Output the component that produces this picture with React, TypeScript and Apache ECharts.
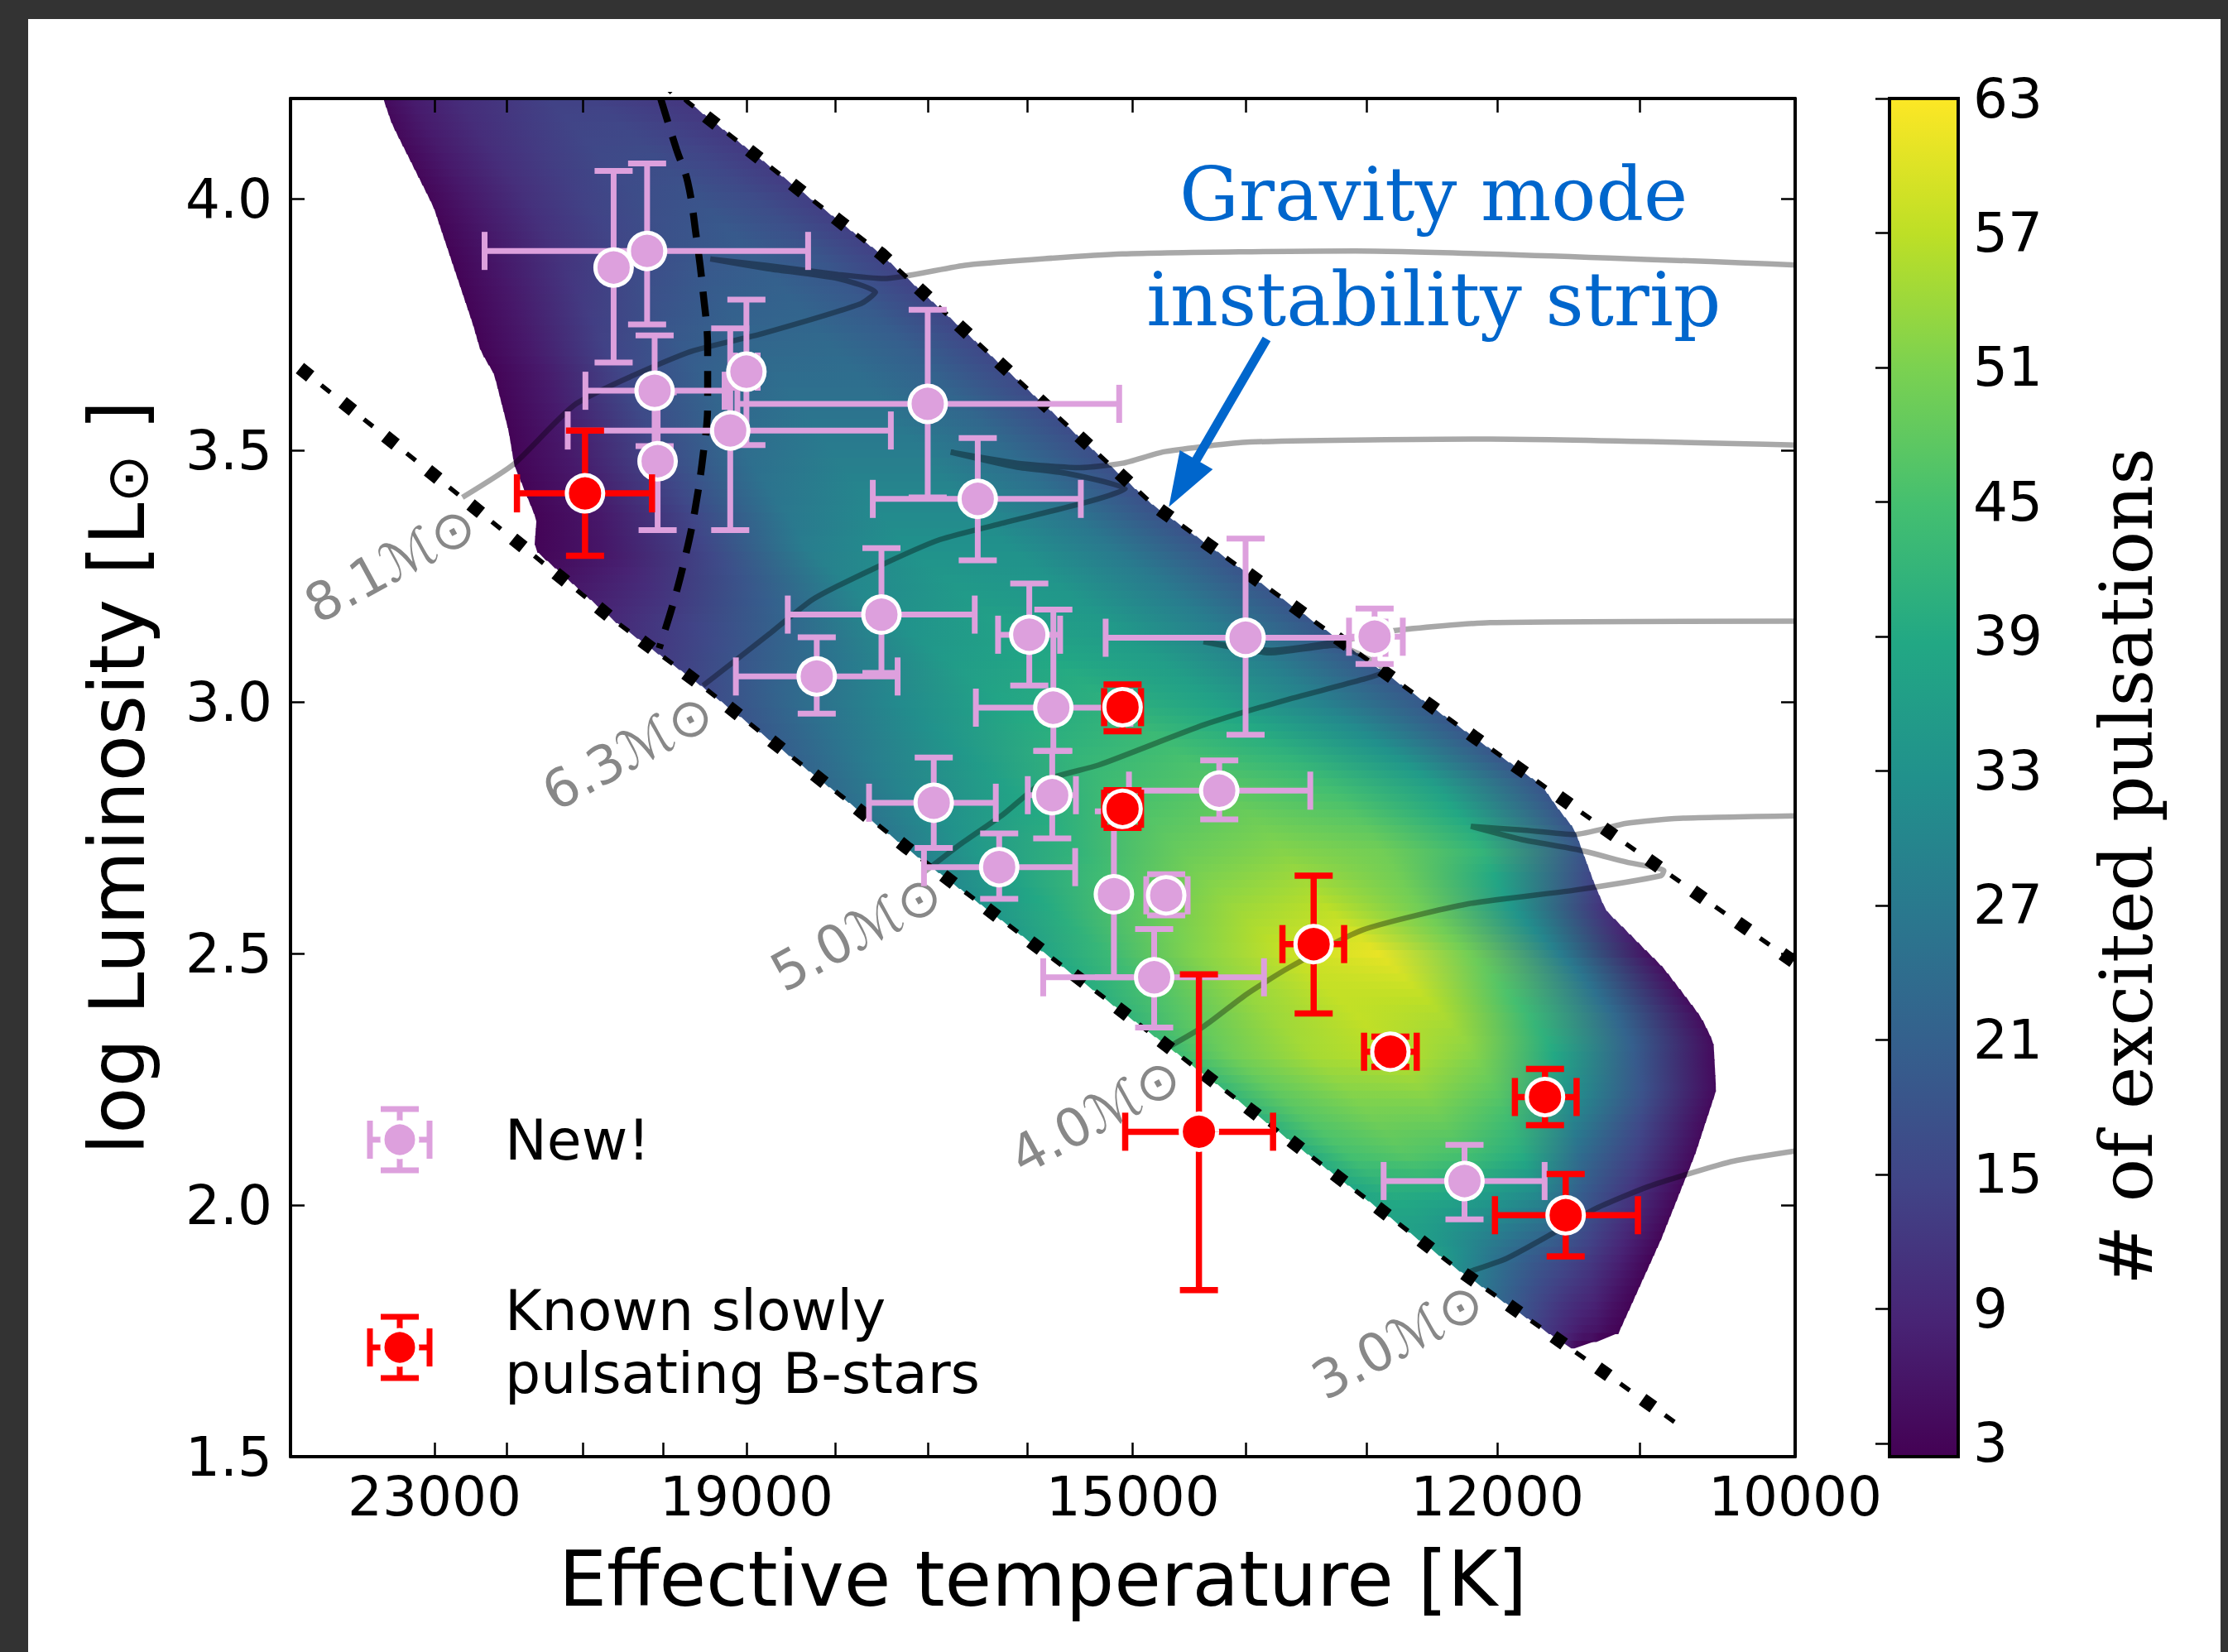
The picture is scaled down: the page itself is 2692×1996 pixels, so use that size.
import React, { useEffect, useRef } from "react";
import * as echarts from "echarts";

const FONT = '"DejaVu Sans", sans-serif';
const SERIF = '"DejaVu Serif", serif';
const BLUE = "#0066CC";
const LAVENDER = "#DDA0DD";
const RED = "#FF0000";

// ---------- axes ----------
const xTickTemps = [10000, 11000, 12000, 13000, 14000, 15000, 16000, 17000, 18000, 19000, 20000, 21000, 22000, 23000];
const xLabelTemps = [23000, 19000, 15000, 12000, 10000];
const yTickValues = [1.5, 2.0, 2.5, 3.0, 3.5, 4.0];
const colorbarTicks = [3, 9, 15, 21, 27, 33, 39, 45, 51, 57, 63];
const COLOR_MIN = 2.4;
const COLOR_MAX = 63;

// ---------- stars: [logTeff, logL, logTeff end a, logTeff end b, logL low, logL high] ----------
const newStars = [
  [4.3141, 3.864, null, null, 3.675, 4.056],
  [4.3052, 3.897, 4.3484, 4.2624, 3.751, 4.071],
  [4.3032, 3.619, 4.3216, 4.2846, 3.509, 3.729],
  [4.3024, 3.479, null, null, 3.342, 3.616],
  [4.2831, 3.54, 4.3263, 4.2404, 3.342, 3.743],
  [4.2788, 3.657, 4.2818, 4.2758, 3.511, 3.8],
  [4.2306, 3.593, 4.2812, 4.1797, 3.407, 3.78],
  [4.2173, 3.404, 4.2452, 4.1899, 3.282, 3.525],
  [4.2429, 3.174, 4.2678, 4.2181, 3.058, 3.306],
  [4.2601, 3.051, 4.2816, 4.2386, 2.977, 3.129],
  [4.2036, 3.134, 4.2119, 4.1954, 3.033, 3.236],
  [4.1972, 2.989, 4.2178, 4.1767, 2.903, 3.184],
  [4.1975, 2.815, 4.204, 4.1912, 2.729, 2.903],
  [4.229, 2.8, 4.2462, 4.2125, 2.71, 2.89],
  [4.2116, 2.672, 4.2316, 4.1914, 2.609, 2.739],
  [4.1811, 2.618, null, null, 2.453, 2.783],
  [4.1704, 2.453, 4.1999, 4.1412, 2.353, 2.549],
  [4.1672, 2.616, 4.1725, 4.1615, 2.576, 2.658],
  [4.1531, 2.824, 4.1771, 4.1289, 2.767, 2.884],
  [4.1461, 3.128, 4.1833, 4.1089, 2.935, 3.325],
  [4.1118, 3.13, 4.1186, 4.1043, 3.076, 3.186],
  [4.0879, 2.048, 4.1094, 4.0666, 1.972, 2.12],
];
const knownStars = [
  [4.3217, 3.415, 4.3398, 4.3039, 3.291, 3.54],
  [4.1788, 2.99, 4.1837, 4.1739, 2.942, 3.035],
  [4.1788, 2.788, 4.1837, 4.1739, 2.75, 2.825],
  [4.128, 2.519, 4.1363, 4.1199, 2.381, 2.655],
  [4.1076, 2.305, 4.1146, 4.1006, 2.275, 2.335],
  [4.0665, 2.215, 4.0745, 4.0581, 2.159, 2.271],
  [4.061, 1.98, 4.0798, 4.0418, 1.898, 2.062],
  [4.1585, 2.146, 4.1781, 4.1388, 1.831, 2.459],
];

// ---------- lines [logTeff, logL] ----------
const zamsLine = [[4.3975, 3.664], [4.3578, 3.427], [4.3135, 3.16], [4.2914, 3.037], [4.2359, 2.709], [4.1792, 2.387], [4.0897, 1.873], [4.0296, 1.556]];
const tamsLine = [[4.3004, 4.236], [4.2944, 4.193], [4.2428, 3.89], [4.1706, 3.392], [4.0854, 2.931], [4.0027, 2.496], [3.9975, 2.469]];
const blueEdgeLine = [[4.3016, 4.2], [4.2974, 4.099], [4.2944, 4.034], [4.2921, 3.924], [4.2903, 3.814], [4.2891, 3.703], [4.2891, 3.593], [4.2903, 3.492], [4.2925, 3.381], [4.2948, 3.297], [4.2982, 3.198], [4.302, 3.107]];

const track81 = [[4.3543, 3.407], [4.3405, 3.474], [4.3239, 3.594], [4.2944, 3.695], [4.2748, 3.732], [4.2484, 3.792], [4.2445, 3.815], [4.2544, 3.842], [4.2733, 3.862], [4.2884, 3.881], [4.2733, 3.868], [4.2544, 3.85], [4.2423, 3.842], [4.2201, 3.869], [4.1788, 3.891], [4.1169, 3.897], [3.9997, 3.869]];
const track63 = [[4.2903, 3.033], [4.2723, 3.138], [4.261, 3.205], [4.2442, 3.268], [4.2274, 3.323], [4.2105, 3.356], [4.1881, 3.398], [4.1781, 3.424], [4.1939, 3.455], [4.2068, 3.467], [4.2245, 3.497], [4.2068, 3.475], [4.1901, 3.466], [4.1788, 3.475], [4.1675, 3.498], [4.145, 3.517], [4.0811, 3.523], [3.9997, 3.511]];
const track50 = [[4.2317, 2.661], [4.2218, 2.718], [4.2105, 2.777], [4.1992, 2.845], [4.1851, 2.875], [4.1571, 2.955], [4.136, 3.003], [4.115, 3.045], [4.1089, 3.062], [4.1225, 3.113], [4.1393, 3.098], [4.1573, 3.12], [4.1393, 3.103], [4.1225, 3.119], [4.1068, 3.142], [4.0811, 3.158], [3.9997, 3.161]];
const track40 = [[4.1669, 2.313], [4.1571, 2.356], [4.1459, 2.419], [4.1346, 2.472], [4.115, 2.547], [4.0869, 2.599], [4.0588, 2.626], [4.0356, 2.655], [4.0349, 2.665], [4.0448, 2.682], [4.0574, 2.706], [4.0728, 2.727], [4.0862, 2.753], [4.0728, 2.746], [4.0588, 2.737], [4.0448, 2.759], [4.0308, 2.769], [4.0, 2.774]];
const track30 = [[4.087, 1.867], [4.0767, 1.894], [4.0644, 1.944], [4.0531, 1.993], [4.039, 2.037], [4.0249, 2.07], [4.0155, 2.089], [3.9997, 2.108]];
const tracks = [track81, track63, track50, track40, track30];
const trackLabels = ["8.1ℳ⊙", "6.3ℳ⊙", "5.0ℳ⊙", "4.0ℳ⊙", "3.0ℳ⊙"];
const trackLabelAnchors = [[4.3518, 3.362], [4.2887, 2.989], [4.2279, 2.63], [4.1644, 2.266], [4.084, 1.819]];

// ---------- instability strip: outline and number of excited pulsations ----------
const stripHotEdge = [[4.3753, 4.2], [4.373, 4.15], [4.362, 3.986], [4.3515, 3.752], [4.3494, 3.698], [4.3459, 3.654], [4.342, 3.54], [4.3405, 3.472], [4.3346, 3.364], [4.3352, 3.305], [4.3135, 3.16], [4.2914, 3.037], [4.2359, 2.709], [4.1792, 2.387], [4.1682, 2.325], [4.0897, 1.873], [4.0595, 1.715]];
const stripCoolEdge = [[4.2952, 4.2], [4.2428, 3.89], [4.1706, 3.392], [4.0854, 2.931], [4.0674, 2.836], [4.0632, 2.791], [4.0587, 2.749], [4.0534, 2.641], [4.0504, 2.588], [4.0349, 2.472], [4.0251, 2.376], [4.0217, 2.325], [4.021, 2.229], [4.0266, 2.102], [4.0357, 1.932], [4.047, 1.746], [4.0587, 1.715]];
const pulsationRowsL = [4.2, 3.9, 3.6, 3.3, 3.0, 2.7, 2.5, 2.3, 2.1, 1.9, 1.72];
const pulsationFractions = [0, 0.1, 0.25, 0.4, 0.55, 0.7, 0.85, 1];
const pulsationGrid = [
  [4, 7, 10, 12, 14, 14, 13, 12],
  [3, 6, 11, 15, 18, 20, 18, 14],
  [3, 7, 16, 22, 25, 25, 22, 16],
  [3, 6, 15, 28, 33, 33, 27, 18],
  [17, 23, 31, 38, 41, 37, 29, 19],
  [28, 35, 42, 49, 52, 50, 42, 18],
  [38, 43, 52, 58, 61, 50, 28, 5],
  [44, 50, 55, 57, 52, 39, 20, 4],
  [40, 45, 47, 45, 40, 24, 14, 4],
  [36, 32, 26, 21, 17, 13, 8, 3],
  [8, 7, 6, 5, 4, 4, 3, 3],
];

// ---------- annotation ----------
const annotationLines = ["Gravity mode", "instability strip"];
const annotationAnchors = [[4.0961, 4.01], [4.0961, 3.801]];
const arrowTail = [4.1405, 3.722];
const arrowTip = [4.1665, 3.388];

// ---------- helpers ----------
const VIRIDIS = ["#440154", "#482475", "#414487", "#355f8d", "#2a788e", "#21918c", "#22a884", "#44bf70", "#7ad151", "#bddf26", "#fde725"];
function hexRgb(h: string) {
  return [parseInt(h.slice(1, 3), 16), parseInt(h.slice(3, 5), 16), parseInt(h.slice(5, 7), 16)];
}
function viridis(t: number) {
  t = Math.max(0, Math.min(1, t));
  const s = t * 10;
  const i = Math.min(9, Math.floor(s));
  const f = s - i;
  const a = hexRgb(VIRIDIS[i]);
  const b = hexRgb(VIRIDIS[i + 1]);
  return `rgb(${Math.round(a[0] + f * (b[0] - a[0]))},${Math.round(a[1] + f * (b[1] - a[1]))},${Math.round(a[2] + f * (b[2] - a[2]))})`;
}
function edgeAt(edge: number[][], L: number) {
  if (L >= edge[0][1]) return edge[0][0];
  for (let i = 0; i < edge.length - 1; i++) {
    const a = edge[i];
    const b = edge[i + 1];
    if (L <= a[1] && L >= b[1]) {
      const f = (a[1] - L) / (a[1] - b[1] || 1);
      return a[0] + f * (b[0] - a[0]);
    }
  }
  return edge[edge.length - 1][0];
}
function rowValuesAt(L: number) {
  const R = pulsationRowsL;
  if (L >= R[0]) return pulsationGrid[0];
  if (L <= R[R.length - 1]) return pulsationGrid[R.length - 1];
  for (let i = 0; i < R.length - 1; i++) {
    if (L <= R[i] && L >= R[i + 1]) {
      const f = (R[i] - L) / (R[i] - R[i + 1]);
      return pulsationGrid[i].map((v, j) => v + f * (pulsationGrid[i + 1][j] - v));
    }
  }
  return pulsationGrid[0];
}

const BAND_COUNT = 160;
const stripTop = stripHotEdge[0][1];
const stripBottom = stripHotEdge[stripHotEdge.length - 1][1];
const bandStep = (stripTop - stripBottom) / BAND_COUNT;
const bandData = Array.from({ length: BAND_COUNT }, (_, i) => {
  const Lm = stripTop - (i + 0.5) * bandStep;
  return [edgeAt(stripHotEdge, Lm), Lm];
});

function errorBarRender(rows: any[], color: string, lw: number) {
  return (params: any, api: any) => {
    const d = rows[params.dataIndex];
    const st = { stroke: color, lineWidth: lw };
    const cap = 23;
    const ch: any[] = [];
    if (d[2] != null && d[3] != null) {
      const a = api.coord([d[2], d[1]]);
      const b = api.coord([d[3], d[1]]);
      ch.push({ type: "line", shape: { x1: a[0], y1: a[1], x2: b[0], y2: b[1] }, style: st });
      ch.push({ type: "line", shape: { x1: a[0], y1: a[1] - cap, x2: a[0], y2: a[1] + cap }, style: st });
      ch.push({ type: "line", shape: { x1: b[0], y1: b[1] - cap, x2: b[0], y2: b[1] + cap }, style: st });
    }
    if (d[4] != null && d[5] != null) {
      const a = api.coord([d[0], d[4]]);
      const b = api.coord([d[0], d[5]]);
      ch.push({ type: "line", shape: { x1: a[0], y1: a[1], x2: b[0], y2: b[1] }, style: st });
      ch.push({ type: "line", shape: { x1: a[0] - cap, y1: a[1], x2: a[0] + cap, y2: a[1] }, style: st });
      ch.push({ type: "line", shape: { x1: b[0] - cap, y1: b[1], x2: b[0] + cap, y2: b[1] }, style: st });
    }
    return { type: "group", children: ch };
  };
}

function legendItem(cx: number, cy: number, color: string) {
  const hw = 36;
  const hh = 37;
  const cap = 23;
  const st = { stroke: color, lineWidth: 7 };
  return [
    { type: "line", shape: { x1: cx - hw, y1: cy, x2: cx + hw, y2: cy }, style: st },
    { type: "line", shape: { x1: cx - hw, y1: cy - cap, x2: cx - hw, y2: cy + cap }, style: st },
    { type: "line", shape: { x1: cx + hw, y1: cy - cap, x2: cx + hw, y2: cy + cap }, style: st },
    { type: "line", shape: { x1: cx, y1: cy - hh, x2: cx, y2: cy + hh }, style: st },
    { type: "line", shape: { x1: cx - cap, y1: cy - hh, x2: cx + cap, y2: cy - hh }, style: st },
    { type: "line", shape: { x1: cx - cap, y1: cy + hh, x2: cx + cap, y2: cy + hh }, style: st },
    { type: "circle", shape: { cx, cy, r: 21 }, style: { fill: color, stroke: "#ffffff", lineWidth: 5 } },
  ];
}

const lg = (v: number) => Math.log10(v);
const tickStyle = { show: true, inside: true, length: 17, lineStyle: { color: "#000", width: 2.5 } };
const frameLine = { show: true, onZero: false, lineStyle: { color: "#000", width: 4 } };

function buildOption(): any {
  const xBase = { type: "value", min: 4.0, max: 4.4, inverse: true, gridIndex: 0, z: 10, axisLine: frameLine, splitLine: { show: false } };
  const yBase = { type: "value", min: 1.5, max: 4.2, gridIndex: 0, z: 10, axisLine: frameLine, splitLine: { show: false } };
  return {
    animation: false,
    backgroundColor: "#ffffff",
    grid: [
      { left: 317, top: 96, width: 1818, height: 1641 },
      { left: 2249, top: 96, width: 83, height: 1641 },
    ],
    xAxis: [
      {
        ...xBase,
        position: "bottom",
        axisTick: { ...tickStyle, customValues: xTickTemps.map(lg) },
        axisLabel: {
          show: true,
          customValues: xLabelTemps.map(lg),
          formatter: (v: number) => String(Math.round(Math.pow(10, v) / 100) * 100),
          margin: 15,
          fontSize: 66,
          fontFamily: FONT,
          color: "#000",
        },
        name: "Effective temperature [K]",
        nameLocation: "middle",
        nameGap: 102,
        nameTextStyle: { fontSize: 92, fontFamily: FONT, color: "#000" },
      },
      { ...xBase, position: "top", axisTick: { ...tickStyle, customValues: xTickTemps.map(lg) }, axisLabel: { show: false } },
      { type: "value", gridIndex: 1, min: 0, max: 1, show: false },
    ],
    yAxis: [
      {
        ...yBase,
        position: "left",
        axisTick: { ...tickStyle, customValues: yTickValues },
        axisLabel: { show: true, customValues: yTickValues, formatter: (v: number) => v.toFixed(1), margin: 22, fontSize: 66, fontFamily: FONT, color: "#000" },
        name: "log Luminosity [L{sub|⊙} ]",
        nameLocation: "middle",
        nameGap: 162,
        nameRotate: 90,
        nameTextStyle: {
          fontSize: 92,
          fontFamily: FONT,
          color: "#000",
          rich: { sub: { fontSize: 70, fontFamily: FONT, color: "#000", padding: [24, 0, 0, 0] } },
        },
      },
      { ...yBase, position: "right", axisTick: { ...tickStyle, customValues: yTickValues }, axisLabel: { show: false } },
      {
        type: "value",
        gridIndex: 1,
        min: COLOR_MIN,
        max: COLOR_MAX,
        position: "right",
        z: 10,
        axisLine: { show: false },
        splitLine: { show: false },
        axisTick: { ...tickStyle, customValues: colorbarTicks },
        axisLabel: { show: true, customValues: colorbarTicks, formatter: (v: number) => String(Math.round(v)), margin: 18, fontSize: 66, fontFamily: FONT, color: "#000" },
      },
    ],
    series: [
      // strip colour field
      {
        type: "custom",
        xAxisIndex: 0,
        yAxisIndex: 0,
        z: 2,
        silent: true,
        data: bandData,
        renderItem: (params: any, api: any) => {
          const i = params.dataIndex;
          const Lt = stripTop - i * bandStep;
          const Lb = Lt - bandStep;
          const Lm = Lt - bandStep / 2;
          const pTL = api.coord([edgeAt(stripHotEdge, Lt), Lt]);
          const pTR = api.coord([edgeAt(stripCoolEdge, Lt), Lt]);
          const pBR = api.coord([edgeAt(stripCoolEdge, Lb), Lb]);
          const pBL = api.coord([edgeAt(stripHotEdge, Lb), Lb]);
          const pL = api.coord([edgeAt(stripHotEdge, Lm), Lm]);
          const pR = api.coord([edgeAt(stripCoolEdge, Lm), Lm]);
          const ext = i < BAND_COUNT - 1 ? 1.5 : 0;
          const vals = rowValuesAt(Lm);
          const stops = pulsationFractions.map((f, j) => ({ offset: f, color: viridis((vals[j] - COLOR_MIN) / (COLOR_MAX - COLOR_MIN)) }));
          return {
            type: "polygon",
            shape: { points: [pTL, pTR, [pBR[0], pBR[1] + ext], [pBL[0], pBL[1] + ext]] },
            style: { fill: new echarts.graphic.LinearGradient(pL[0], pL[1], pR[0] + 0.01, pR[1], stops, true) },
          };
        },
      },
      // evolutionary tracks
      ...tracks.map((t) => ({
        type: "line",
        xAxisIndex: 0,
        yAxisIndex: 0,
        z: 3,
        silent: true,
        data: t,
        showSymbol: false,
        symbol: "none",
        smooth: 0.2,
        lineStyle: { color: "#000", opacity: 0.34, width: 6.5 },
      })),
      // ZAMS / TAMS
      ...[zamsLine, tamsLine].flatMap((l) => [
        { type: "line", xAxisIndex: 0, yAxisIndex: 0, z: 4, silent: true, data: l, symbol: "none", lineStyle: { color: "#000", width: 16, type: [16, 50], cap: "butt" } },
        { type: "line", xAxisIndex: 0, yAxisIndex: 0, z: 4, silent: true, data: l, symbol: "none", lineStyle: { color: "#000", width: 5.5, type: [14, 52], dashOffset: 33, cap: "butt" } },
      ]),
      // blue edge
      { type: "line", xAxisIndex: 0, yAxisIndex: 0, z: 4, silent: true, data: blueEdgeLine, symbol: "none", smooth: 0.4, lineStyle: { color: "#000", width: 8.5, type: [30, 18], cap: "butt" } },
      // mass labels
      {
        type: "custom",
        xAxisIndex: 0,
        yAxisIndex: 0,
        z: 5,
        silent: true,
        data: trackLabelAnchors,
        renderItem: (params: any, api: any) => {
          const p = api.coord(trackLabelAnchors[params.dataIndex]);
          return {
            type: "text",
            x: p[0],
            y: p[1],
            rotation: 0.5,
            style: { text: trackLabels[params.dataIndex], fontSize: 64, fontFamily: FONT, fill: "#888888", align: "right", verticalAlign: "middle", textAlign: "right", textVerticalAlign: "middle" },
          };
        },
      },
      // new stars
      { type: "custom", xAxisIndex: 0, yAxisIndex: 0, z: 6, silent: true, data: newStars.map((r) => [r[0], r[1]]), renderItem: errorBarRender(newStars, LAVENDER, 7) },
      { type: "scatter", xAxisIndex: 0, yAxisIndex: 0, z: 7, silent: true, data: newStars.map((r) => [r[0], r[1]]), symbol: "circle", symbolSize: 44, itemStyle: { color: LAVENDER, borderColor: "#ffffff", borderWidth: 5, opacity: 1 } },
      // known SPB stars
      { type: "custom", xAxisIndex: 0, yAxisIndex: 0, z: 8, silent: true, data: knownStars.map((r) => [r[0], r[1]]), renderItem: errorBarRender(knownStars, RED, 7.5) },
      { type: "scatter", xAxisIndex: 0, yAxisIndex: 0, z: 9, silent: true, data: knownStars.map((r) => [r[0], r[1]]), symbol: "circle", symbolSize: 44, itemStyle: { color: RED, borderColor: "#ffffff", borderWidth: 5, opacity: 1 } },
      // annotation arrow
      {
        type: "custom",
        xAxisIndex: 0,
        yAxisIndex: 0,
        z: 9,
        silent: true,
        data: [arrowTail],
        renderItem: (params: any, api: any) => {
          const t = api.coord(arrowTail);
          const h = api.coord(arrowTip);
          const dx = h[0] - t[0];
          const dy = h[1] - t[1];
          const len = Math.hypot(dx, dy);
          const ux = dx / len;
          const uy = dy / len;
          const px = -uy;
          const py = ux;
          const headLen = 66;
          const headHalf = 23;
          const bx = h[0] - ux * headLen;
          const by = h[1] - uy * headLen;
          return {
            type: "group",
            children: [
              { type: "line", shape: { x1: t[0], y1: t[1], x2: bx + ux * 6, y2: by + uy * 6 }, style: { stroke: BLUE, lineWidth: 11 } },
              { type: "polygon", shape: { points: [[h[0], h[1]], [bx + px * headHalf, by + py * headHalf], [bx - px * headHalf, by - py * headHalf]] }, style: { fill: BLUE } },
            ],
          };
        },
      },
      // annotation text
      {
        type: "custom",
        xAxisIndex: 0,
        yAxisIndex: 0,
        z: 9,
        silent: true,
        data: annotationAnchors,
        renderItem: (params: any, api: any) => {
          const p = api.coord(annotationAnchors[params.dataIndex]);
          return {
            type: "text",
            x: p[0],
            y: p[1],
            style: { text: annotationLines[params.dataIndex], fontSize: 90, fontFamily: SERIF, fill: BLUE, align: "center", verticalAlign: "middle", textAlign: "center", textVerticalAlign: "middle" },
          };
        },
      },
      // colorbar
      {
        type: "custom",
        xAxisIndex: 2,
        yAxisIndex: 2,
        z: 2,
        silent: true,
        data: [[0, COLOR_MIN]],
        renderItem: (params: any, api: any) => {
          const p0 = api.coord([0, COLOR_MIN]);
          const p1 = api.coord([1, COLOR_MAX]);
          const shape = { x: p0[0], y: p1[1], width: p1[0] - p0[0], height: p0[1] - p1[1] };
          return {
            type: "group",
            children: [
              {
                type: "rect",
                shape,
                style: { fill: new echarts.graphic.LinearGradient(0, 1, 0, 0, VIRIDIS.map((c, i) => ({ offset: i / 10, color: c }))) },
              },
              { type: "rect", shape, z2: 10, style: { fill: "none", stroke: "#000", lineWidth: 4 } },
            ],
          };
        },
      },
    ],
    graphic: [
      ...legendItem(449, 1354, LAVENDER),
      ...legendItem(449, 1605, RED),
      { type: "text", x: 576, y: 1354, style: { text: "New!", font: `68px ${FONT}`, fill: "#000", textAlign: "left", textVerticalAlign: "middle", align: "left", verticalAlign: "middle" } },
      {
        type: "text",
        x: 576,
        y: 1598,
        style: { text: "Known slowly\npulsating B-stars", font: `68px ${FONT}`, lineHeight: 76, fill: "#000", textAlign: "left", textVerticalAlign: "middle", align: "left", verticalAlign: "middle" },
      },
      {
        type: "text",
        x: 2536,
        y: 1024,
        rotation: Math.PI / 2,
        style: { text: "# of excited pulsations", font: `87px ${SERIF}`, fill: "#000", textAlign: "center", textVerticalAlign: "middle", align: "center", verticalAlign: "middle" },
      },
    ],
  };
}

export default function App() {
  const ref = useRef<HTMLDivElement>(null);
  useEffect(() => {
    document.body.style.margin = "0";
    const chart = echarts.init(ref.current as HTMLDivElement, null, { renderer: "svg" });
    chart.setOption(buildOption());
    return () => chart.dispose();
  }, []);
  return (
    <div style={{ position: "relative", width: 2692, height: 1996, background: "#333333", overflow: "hidden" }}>
      <div ref={ref} style={{ position: "absolute", left: 34, top: 23, width: 2649, height: 1973, background: "#ffffff" }} />
    </div>
  );
}
